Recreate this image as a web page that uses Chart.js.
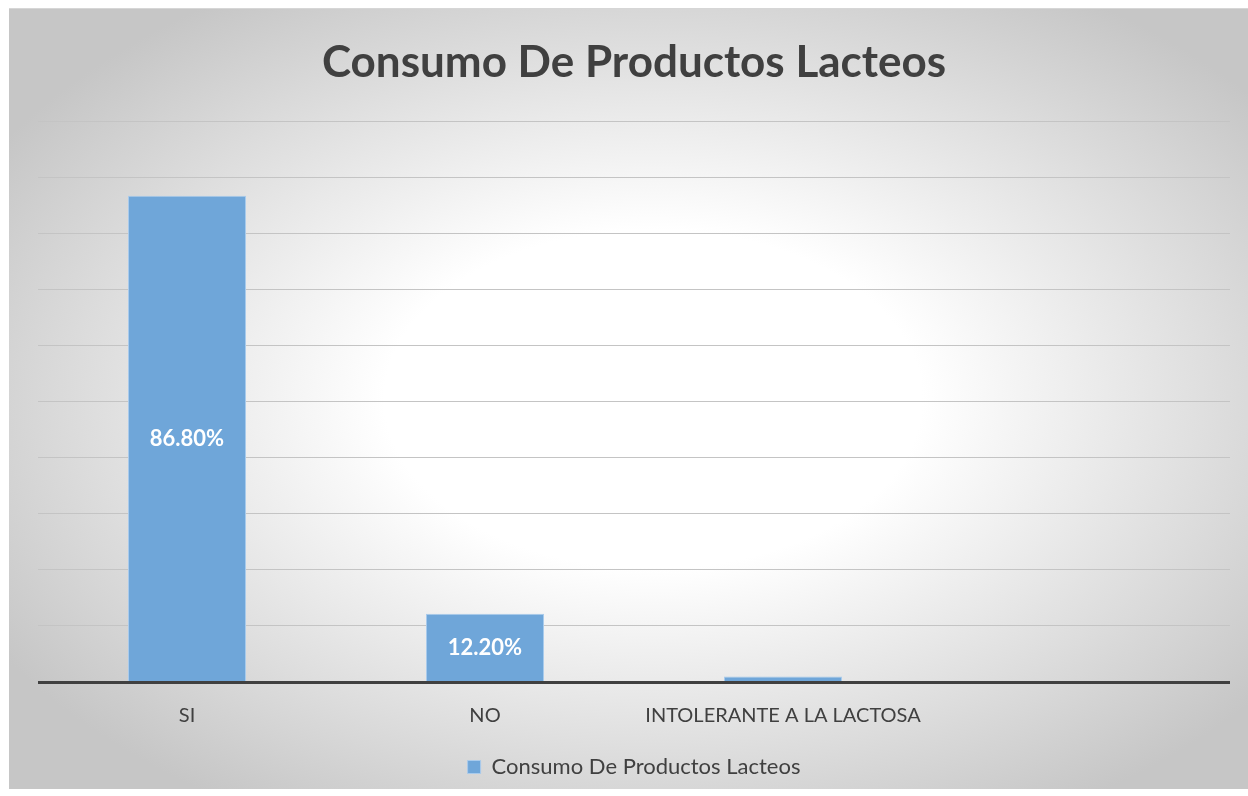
<!DOCTYPE html>
<html>
<head>
<meta charset="utf-8">
<script src="https://cdn.jsdelivr.net/npm/chart.js@4.4.0/dist/chart.umd.min.js"></script>
<style>
    html, body { margin: 0; padding: 0; background: #fff; overflow: hidden; }
    #frame {
        position: absolute; left: 9px; top: 8px; width: 1239px; height: 780px;
        border-top: 1px solid #d6d6d6;
        background: radial-gradient(ellipse 62% 62% at 52% 50%, #ffffff 35%, #c6c6c6 100%);
    }
    #chart { position: absolute; left: 0; top: 0; }
</style>
</head>
<body>
<div id="frame"><canvas id="chart" width="1239" height="779"></canvas></div>
<script>
// Datos del gráfico
const categorias = ['SI', 'NO', 'INTOLERANTE A LA LACTOSA', ''];
const valores = [86.8, 12.2, 1.0, null];
const etiquetas = ['86.80%', '12.20%', '', ''];
const tituloSerie = 'Consumo De Productos Lacteos';

const fuente = "Lato, 'Open Sans', sans-serif";

// Etiquetas blancas dentro de las barras
const etiquetasBarras = {
    id: 'etiquetasBarras',
    afterDatasetsDraw(chart) {
        const ctx = chart.ctx;
        const meta = chart.getDatasetMeta(0);
        ctx.save();
        ctx.fillStyle = '#ffffff';
        ctx.font = 'bold 22px ' + fuente;
        ctx.textAlign = 'center';
        ctx.textBaseline = 'middle';
        meta.data.forEach((bar, i) => {
            if (!etiquetas[i]) return;
            ctx.fillText(etiquetas[i], bar.x, (bar.y + bar.base) / 2);
        });
        ctx.restore();
    }
};

// Línea del eje más gruesa
const lineaEje = {
    id: 'lineaEje',
    afterDatasetsDraw(chart) {
        const { ctx, chartArea } = chart;
        const y = chart.scales.y.getPixelForValue(0);
        ctx.save();
        ctx.strokeStyle = '#404040';
        ctx.lineWidth = 3;
        ctx.beginPath();
        ctx.moveTo(chartArea.left, y + 0.5);
        ctx.lineTo(chartArea.right, y + 0.5);
        ctx.stroke();
        ctx.restore();
    }
};

new Chart(document.getElementById('chart'), {
    type: 'bar',
    data: {
        labels: categorias,
        datasets: [{
            label: tituloSerie,
            data: valores,
            backgroundColor: '#6fa6d9',
            borderColor: '#a9cbec',
            borderWidth: 1,
            categoryPercentage: 1,
            barPercentage: 0.396
        }]
    },
    options: {
        responsive: false,
        animation: false,
        layout: { padding: { left: 29, right: 18, bottom: 0 } },
        plugins: {
            title: {
                display: true,
                text: tituloSerie,
                color: '#404040',
                font: { size: 44, weight: 'bold', family: fuente },
                padding: { top: 27, bottom: 33 }
            },
            legend: {
                display: true,
                position: 'bottom',
                labels: {
                    color: '#404040',
                    font: { size: 22, family: fuente },
                    boxWidth: 13,
                    boxHeight: 13,
                    padding: 9
                }
            },
            tooltip: { enabled: false }
        },
        scales: {
            x: {
                grid: { display: false },
                border: { display: false },
                ticks: {
                    color: '#404040',
                    font: { size: 20, family: fuente },
                    padding: 14,
                    maxRotation: 0
                },
                afterFit(scale) { scale.height += 5; }
            },
            y: {
                min: 0,
                max: 100,
                grid: { color: '#c4c4c4', lineWidth: 1, drawTicks: false },
                border: { display: false },
                ticks: { display: false, stepSize: 10 }
            }
        }
    },
    plugins: [etiquetasBarras, lineaEje]
});
</script>
</body>
</html>
